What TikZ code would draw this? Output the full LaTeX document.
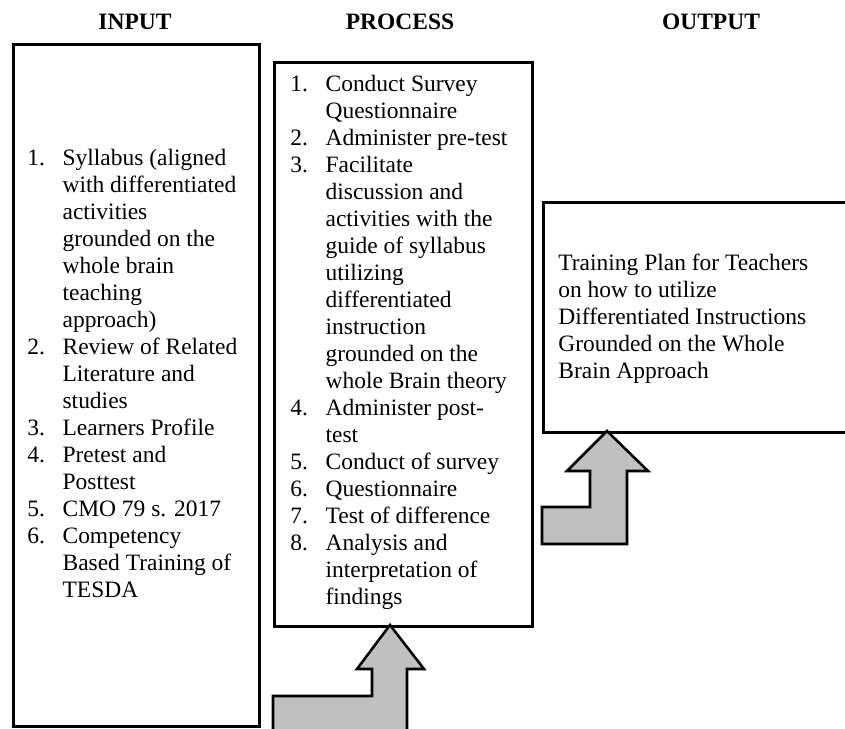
\documentclass[tikz,border=0pt]{standalone}
\usepackage{fontspec}
\setmainfont{Liberation Serif}
\definecolor{arrowgray}{HTML}{C0C0C0}
\newcommand{\itm}[1]{\strut\makebox[18pt][l]{#1}}
\newcommand{\cnt}{\strut\hspace*{18pt}}

\begin{document}
\begin{tikzpicture}[x=0.5112pt,y=-0.5112pt,
    box/.style={draw,line width=1.3pt,inner sep=0pt,anchor=north west},
    txt/.style={anchor=north west,inner sep=0pt,align=left,
      font=\fontsize{12}{13.8}\selectfont},
    head/.style={anchor=base,inner sep=0pt,font=\fontsize{12}{13.8}\selectfont\bfseries},
    blockarrow/.style={draw,fill=arrowgray,line width=1.3pt,line join=miter}]
  \useasboundingbox (0,0) rectangle (845,729);
  \clip (0,0) rectangle (845,729);

  \node[head] (inhead) at (135,30) {INPUT};
  \node[head] (prochead) at (400,30) {PROCESS};
  \node[head] (outhead) at (711,30) {OUTPUT};

  \node[box,minimum width=246*0.5112pt,minimum height=682*0.5112pt] (inbox) at (12,43) {};
  \node[box,minimum width=258*0.5112pt,minimum height=564*0.5112pt] (procbox) at (273,61) {};
  \node[box,minimum width=320*0.5112pt,minimum height=230*0.5112pt] (outbox) at (542,201) {};

  \node[txt] (intext) at (27,146) {%
    \itm{1.}Syllabus (aligned\\
    \cnt with differentiated\\
    \cnt activities\\
    \cnt grounded on the\\
    \cnt whole brain\\
    \cnt teaching\\
    \cnt approach)\\
    \itm{2.}Review of Related\\
    \cnt Literature and\\
    \cnt studies\\
    \itm{3.}Learners Profile\\
    \itm{4.}Pretest and\\
    \cnt Posttest\\
    \itm{5.}CMO 79 s. 2017\\
    \itm{6.}Competency\\
    \cnt Based Training of\\
    \cnt TESDA};

  \node[txt] (proctext) at (290,72) {%
    \itm{1.}Conduct Survey\\
    \cnt Questionnaire\\
    \itm{2.}Administer pre-test\\
    \itm{3.}Facilitate\\
    \cnt discussion and\\
    \cnt activities with the\\
    \cnt guide of syllabus\\
    \cnt utilizing\\
    \cnt differentiated\\
    \cnt instruction\\
    \cnt grounded on the\\
    \cnt whole Brain theory\\
    \itm{4.}Administer post-\\
    \cnt test\\
    \itm{5.}Conduct of survey\\
    \itm{6.}Questionnaire\\
    \itm{7.}Test of difference\\
    \itm{8.}Analysis and\\
    \cnt interpretation of\\
    \cnt findings};

  \node[txt] (outtext) at (558,251) {%
    \strut Training Plan for Teachers\\
    \strut on how to utilize\\
    \strut Differentiated Instructions\\
    \strut Grounded on the Whole\\
    \strut Brain Approach};

  \coordinate (tipa) at (390,625);
  \coordinate (tipb) at (607,431);
  \draw[blockarrow] (tipa) -- (424,669) -- (407,669) -- (407,745) -- (273,745)
    -- (273,696) -- (372,696) -- (372,669) -- (357,669) -- cycle;
  \draw[blockarrow] (tipb) -- (648,471) -- (627,471) -- (627,544) -- (542,544)
    -- (542,507) -- (590,507) -- (590,471) -- (567,471) -- cycle;
\end{tikzpicture}
\end{document}
